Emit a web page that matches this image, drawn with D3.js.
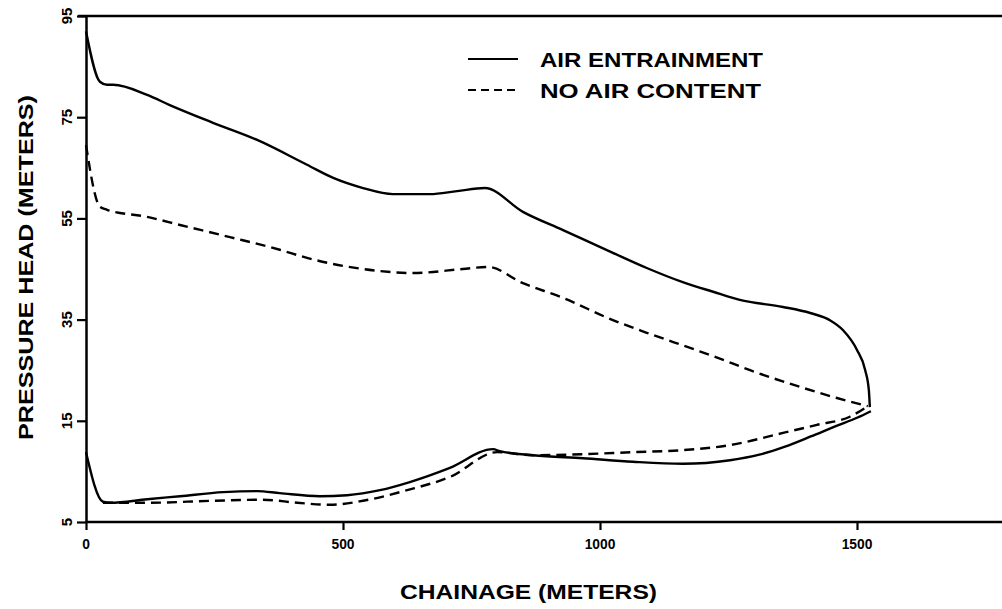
<!DOCTYPE html>
<html>
<head>
<meta charset="utf-8">
<script src="https://cdn.jsdelivr.net/npm/d3@7"></script>
<style>
  body { margin: 0; background: #fff; }
  text { font-family: "Liberation Sans", Arial, sans-serif; font-weight: bold; fill: #000; }
</style>
</head>
<body>
<svg id="chart"></svg>
<script>
//constants
const width = 1002,
    height = 609,
    margin = { top: 16, left: 86, bottom: 87 };

// chainage (m) / pressure head (m)
const airMaxX = [0, 27, 41, 53, 119, 163, 247, 333, 430, 481, 539, 597, 669, 722, 776, 850, 928, 1025, 1091, 1161, 1220, 1272, 1356, 1409, 1447, 1473, 1500, 1516, 1523, 1525];
const airMaxY = [92.0, 82.0, 81.4, 81.4, 79.4, 77.4, 73.9, 70.5, 65.6, 63.0, 61.0, 59.8, 59.8, 60.4, 61.0, 56.3, 52.7, 48.2, 45.2, 42.4, 40.5, 38.9, 37.5, 36.3, 34.9, 32.9, 29.0, 25.0, 21.1, 17.7];

const airMinX = [0, 33, 47, 119, 183, 267, 333, 377, 455, 508, 572, 630, 708, 792, 805, 870, 967, 1064, 1161, 1253, 1310, 1360, 1410, 1460, 1500, 1527];
const airMinY = [8.8, -1.0, -1.2, -0.5, 0.1, 0.9, 1.1, 0.7, 0.1, 0.3, 1.3, 2.9, 5.7, 9.4, 9.0, 8.2, 7.6, 6.9, 6.5, 7.2, 8.3, 9.9, 11.9, 14.0, 15.6, 16.9];

const noAirMaxX = [0, 27, 41, 119, 183, 280, 377, 430, 572, 636, 733, 782, 850, 928, 1025, 1091, 1181, 1228, 1292, 1389, 1461, 1521];
const noAirMaxY = [69.5, 57.3, 56.7, 55.3, 53.7, 51.3, 48.8, 47.2, 44.6, 44.2, 45.0, 45.4, 42.2, 39.3, 34.9, 32.4, 29.2, 27.5, 25.0, 21.7, 19.5, 17.9];

const noAirMinX = [33, 119, 247, 344, 411, 475, 539, 625, 708, 800, 870, 967, 1064, 1161, 1253, 1356, 1422, 1486, 1521];
const noAirMinY = [-1.2, -1.2, -0.8, -0.6, -1.2, -1.6, -0.8, 1.3, 3.9, 8.8, 8.2, 8.4, 8.8, 9.2, 10.2, 12.6, 14.2, 15.8, 17.9];

const xTicks = [0, 500, 1000, 1500];
const yTicks = [-5, 15, 35, 55, 75, 95];
const yTickLabels = ["5", "15", "35", "55", "75", "95"];

const legendNames = ["AIR ENTRAINMENT", "NO AIR CONTENT"];
const legendDash = ["none", "8,5"];

const svg = d3.select("#chart").attr("width", width).attr("height", height);

const xScale = d3.scaleLinear().domain([0, 1800]).range([margin.left, margin.left + 1800 * 0.514]);
const yScale = d3.scaleLinear().domain([-5, 95]).range([height - margin.bottom, margin.top]);

// axes (lines only, labels added by hand below)
const xAxis = d3.axisBottom(xScale).tickValues(xTicks).tickSize(8).tickSizeOuter(0).tickFormat("");
const yAxis = d3.axisLeft(yScale).tickValues(yTicks).tickSize(9).tickSizeOuter(0).tickFormat("");

const gx = svg.append("g")
    .attr("transform", `translate(0,${height - margin.bottom})`)
    .call(xAxis);
gx.select(".domain").attr("d", `M${margin.left},0H${width}`);

const gy = svg.append("g")
    .attr("transform", `translate(${margin.left},0)`)
    .call(yAxis);

svg.selectAll(".tick line").attr("stroke-width", 2.2);
svg.selectAll(".domain").attr("stroke-width", 2.5);

// tick labels
svg.selectAll(".xlab")
    .data(xTicks)
    .join("text")
    .attr("class", "xlab")
    .attr("x", d => xScale(d))
    .attr("y", height - margin.bottom + 27)
    .attr("text-anchor", "middle")
    .style("font-size", "15px")
    .attr("transform", d => `translate(${xScale(d)},0) scale(0.92,1) translate(${-xScale(d)},0)`)
    .text(d => d);

svg.selectAll(".ylab")
    .data(yTicks)
    .join("text")
    .attr("class", "ylab")
    .attr("text-anchor", "middle")
    .attr("dy", "0.36em")
    .style("font-size", "15px")
    .attr("transform", d => `translate(${margin.left - 19},${yScale(d)}) rotate(-90)`)
    .text((d, i) => yTickLabels[i]);

// top frame line
svg.append("line")
    .attr("x1", margin.left - 8).attr("x2", width)
    .attr("y1", yScale(95)).attr("y2", yScale(95))
    .attr("stroke", "#000").attr("stroke-width", 2.5);

// curves
const line = d3.line()
    .x(d => xScale(d[0]))
    .y(d => yScale(d[1]))
    .curve(d3.curveMonotoneX);

const series = [
    { x: airMaxX, y: airMaxY, dash: "none" },
    { x: airMinX, y: airMinY, dash: "none" },
    { x: noAirMaxX, y: noAirMaxY, dash: "10,6" },
    { x: noAirMinX, y: noAirMinY, dash: "10,6" }
];

svg.selectAll(".curve")
    .data(series)
    .join("path")
    .attr("class", "curve")
    .attr("d", s => line(s.x.map((v, i) => [v, s.y[i]])))
    .attr("fill", "none")
    .attr("stroke", "#000")
    .attr("stroke-width", 2.4)
    .attr("stroke-dasharray", s => s.dash);

// legend
const legend = svg.append("g").attr("transform", "translate(468,59)");
legend.selectAll("line")
    .data(legendNames)
    .join("line")
    .attr("x1", 0).attr("x2", 50)
    .attr("y1", (d, i) => i * 31).attr("y2", (d, i) => i * 31)
    .attr("stroke", "#000").attr("stroke-width", 2)
    .attr("stroke-dasharray", (d, i) => legendDash[i]);
legend.selectAll("text")
    .data(legendNames)
    .join("text")
    .attr("x", 72)
    .attr("y", (d, i) => i * 31)
    .attr("dy", "0.36em")
    .style("font-size", "21px")
    .attr("textLength", (d, i) => i === 0 ? 223 : 221)
    .attr("lengthAdjust", "spacingAndGlyphs")
    .text(d => d);

// axis titles
svg.append("text")
    .attr("x", 400).attr("y", 591)
    .attr("dy", "0.36em")
    .style("font-size", "21px")
    .attr("textLength", 257)
    .attr("lengthAdjust", "spacingAndGlyphs")
    .text("CHAINAGE  (METERS)");

svg.append("text")
    .attr("transform", "translate(25,440) rotate(-90)")
    .attr("dy", "0.36em")
    .style("font-size", "21px")
    .attr("textLength", 345)
    .attr("lengthAdjust", "spacingAndGlyphs")
    .text("PRESSURE  HEAD  (METERS)");
</script>
</body>
</html>
